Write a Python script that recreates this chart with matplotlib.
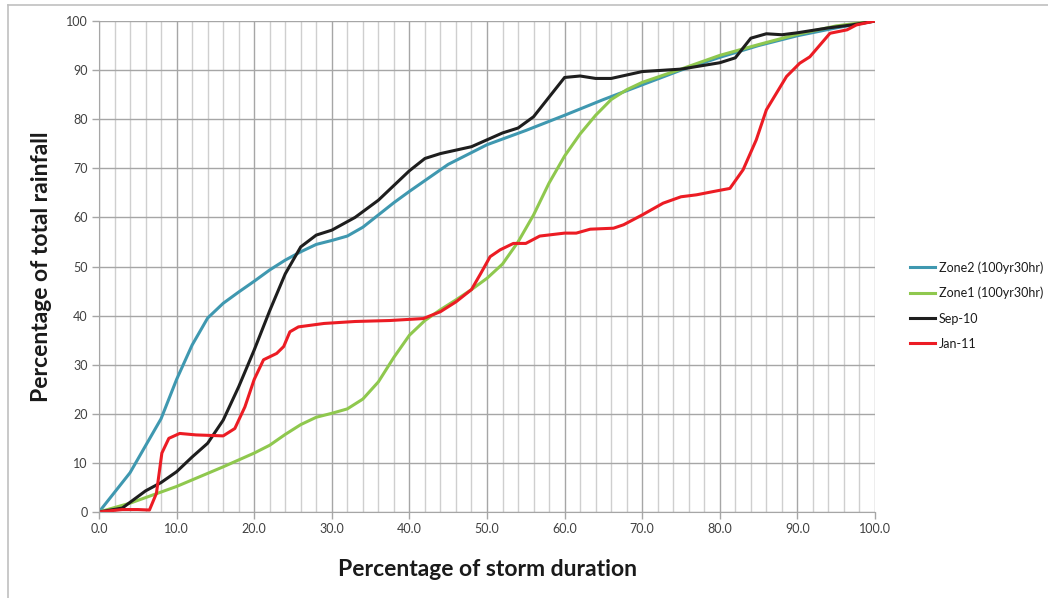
import matplotlib
matplotlib.use('Agg')
import matplotlib.pyplot as plt
from matplotlib.lines import Line2D

plt.rcParams['font.family'] = ['Lato', 'DejaVu Sans']

# Zone2 (100yr30hr)
zone2_x = [0, 4, 8, 10, 12, 14, 16, 18, 20, 22, 24, 26, 28, 30, 32, 34, 36, 38, 40, 45,
           50, 55, 60, 65, 70, 75, 80, 85, 90, 95, 100]
zone2_y = [0, 8, 19, 27, 34, 39.5, 42.5, 44.8, 47, 49.3, 51.3, 53, 54.5, 55.3, 56.2, 58,
           60.5, 63, 65.3, 70.8, 74.8, 77.7, 80.8, 84, 87, 90, 92.6, 95, 97, 98.6, 100]

# Zone1 (100yr30hr)
zone1_x = [0, 4, 10, 16, 20, 22, 24, 26, 28, 30, 32, 34, 36, 38, 40, 42, 44, 46, 48, 50,
           52, 54, 56, 58, 60, 62, 64, 66, 68, 70, 75, 80, 85, 90, 95, 100]
zone1_y = [0, 1.8, 5.2, 9.2, 12, 13.6, 15.8, 17.8, 19.3, 20.1, 21, 23, 26.5, 31.5, 36, 39,
           41.2, 43.2, 45.3, 47.6, 50.5, 55, 60.5, 67, 72.5, 77, 80.8, 84, 86, 87.5, 90.2,
           93, 95.2, 97.3, 99, 100]

# Sep-10
sep_x = [0, 3, 6, 8, 10, 12, 14, 16, 18, 20, 22, 24, 26, 28, 30, 33, 36, 40, 42, 44, 48,
         50, 52, 54, 56, 58, 60, 62, 64, 66, 68, 70, 75, 80, 82, 84, 86, 88, 90, 94, 97, 100]
sep_y = [0, 0.8, 4.3, 6, 8.2, 11.2, 14, 18.7, 25.5, 33, 41, 48.5, 54, 56.4, 57.4, 60, 63.5,
         69.5, 72, 73, 74.4, 75.8, 77.2, 78.2, 80.5, 84.5, 88.5, 88.8, 88.3, 88.3, 89, 89.7,
         90.2, 91.5, 92.5, 96.5, 97.4, 97.2, 97.6, 98.6, 99.2, 100]

# Jan-11
jan_x = [0, 3, 5, 6.5, 7.4, 8.1, 9, 10.4, 12.5, 16, 17.5, 18.8, 20, 21.2, 22.9, 23.8, 24.6,
         25.7, 29, 33, 37.5, 41.8, 44, 46, 48, 49.2, 50.4, 51.7, 53.4, 55, 56.8, 60, 61.5,
         63.3, 66.3, 67.6, 70, 72.7, 75, 77, 79.6, 81.3, 83, 84.7, 86, 88.6, 90.3, 91.6,
         94.2, 96.4, 97.6, 100]
jan_y = [0, 0.5, 0.5, 0.4, 3.8, 12, 15, 16, 15.7, 15.5, 17, 21.4, 27, 31, 32.3, 33.7, 36.7,
         37.7, 38.4, 38.8, 39, 39.4, 40.8, 42.8, 45.3, 48.6, 52, 53.4, 54.7, 54.7, 56.2, 56.8,
         56.8, 57.6, 57.8, 58.5, 60.5, 62.9, 64.2, 64.6, 65.4, 65.9, 69.7, 75.8, 81.9, 88.7,
         91.4, 92.7, 97.5, 98.2, 99.2, 100]

x_ticks = [0, 10, 20, 30, 40, 50, 60, 70, 80, 90, 100]
y_ticks = [0, 10, 20, 30, 40, 50, 60, 70, 80, 90, 100]

fig = plt.figure(figsize=(10.48, 5.98), dpi=100)
ax = fig.add_axes([99 / 1048, 86 / 598, 776 / 1048, 491 / 598])

ax.plot(zone2_x, zone2_y, color='#3f98b0', lw=2.2, label='Zone2 (100yr30hr)')
ax.plot(zone1_x, zone1_y, color='#8fc84e', lw=2.2, label='Zone1 (100yr30hr)')
ax.plot(sep_x, sep_y, color='#1e1e1e', lw=2.2, label='Sep-10')
ax.plot(jan_x, jan_y, color='#ec1c24', lw=2.2, label='Jan-11')

ax.set_xlim(0, 100)
ax.set_ylim(0, 100)
ax.set_xticks(x_ticks)
ax.set_xticklabels([f'{v:.1f}' for v in x_ticks])
ax.set_yticks(y_ticks)
ax.set_xticks(range(0, 101, 2), minor=True)
ax.grid(which='major', axis='both', color='#a6a6a6', lw=1)
ax.grid(which='minor', axis='x', color='#cfcfcf', lw=1)
ax.set_axisbelow(True)
ax.tick_params(axis='both', which='major', colors='#a6a6a6', labelcolor='#404040',
               labelsize=9, length=5, width=1, pad=3)
ax.tick_params(axis='both', which='minor', length=0)
for s in ['top', 'right']:
    ax.spines[s].set_visible(False)
for s in ['left', 'bottom']:
    ax.spines[s].set_color('#a6a6a6')

ax.set_xlabel('Percentage of storm duration', fontsize=16.5, fontweight='bold',
              color='#1a1a1a', labelpad=17)
ax.set_ylabel('Percentage of total rainfall', fontsize=16.5, fontweight='bold',
              color='#1a1a1a', labelpad=10)

fig.legend(loc='upper left', bbox_to_anchor=(899 / 1048, 1 - 250 / 598), frameon=False,
           fontsize=9, handlelength=2.0, handletextpad=0.3, labelspacing=1.05,
           labelcolor='#1a1a1a')

fig.add_artist(Line2D([8 / 1048, 1], [1 - 5 / 598, 1 - 5 / 598], color='#c0c0c0', lw=1.2))
fig.add_artist(Line2D([8 / 1048, 8 / 1048], [0, 1 - 5 / 598], color='#c0c0c0', lw=1.2))

fig.savefig('out.png', dpi=100)
